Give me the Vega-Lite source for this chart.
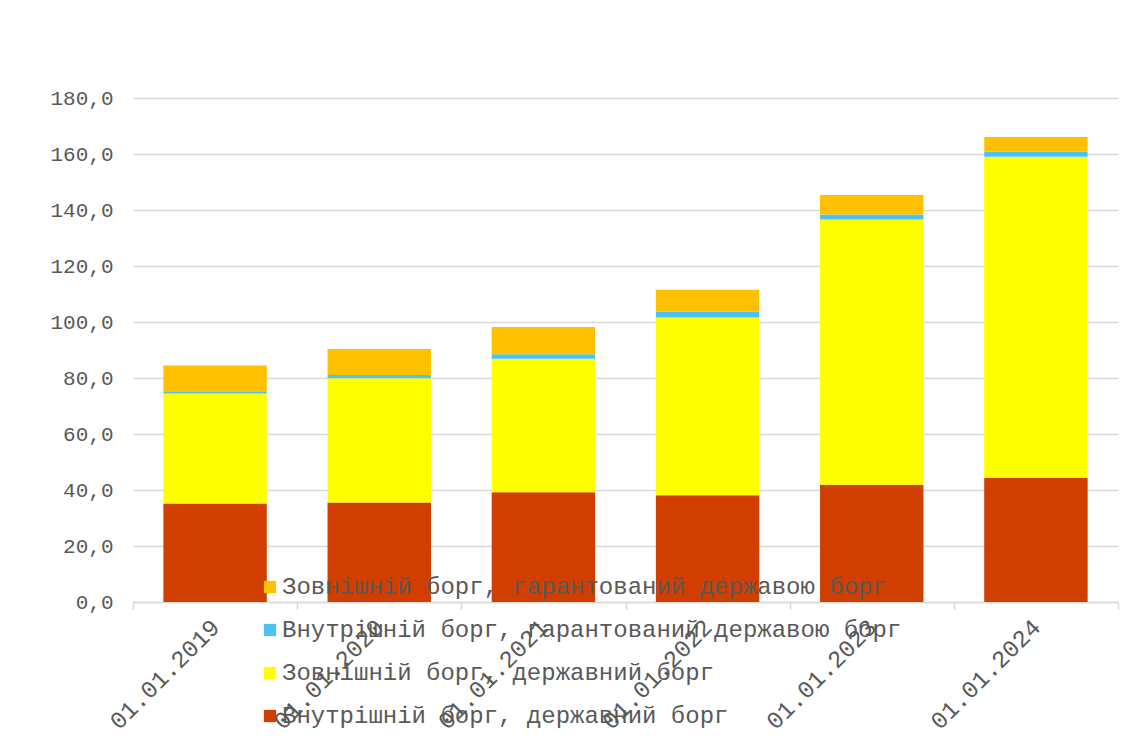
{
  "$schema": "https://vega.github.io/schema/vega-lite/v6.json",
  "width": 985,
  "height": 504,
  "autosize": {"type": "none"},
  "padding": {"left": 133, "top": 98, "right": 28, "bottom": 140},
  "background": "#ffffff",
  "data": {
    "values": [
      {"date": "01.01.2019", "series": "Внутрішній борг, державний борг", "ord": 1, "value": 35.2},
      {"date": "01.01.2019", "series": "Зовнішній борг, державний борг", "ord": 2, "value": 39.3},
      {"date": "01.01.2019", "series": "Внутрішній борг, гарантований державою борг", "ord": 3, "value": 0.5},
      {"date": "01.01.2019", "series": "Зовнішній борг, гарантований державою борг", "ord": 4, "value": 9.5},
      {"date": "01.01.2020", "series": "Внутрішній борг, державний борг", "ord": 1, "value": 35.5},
      {"date": "01.01.2020", "series": "Зовнішній борг, державний борг", "ord": 2, "value": 44.4},
      {"date": "01.01.2020", "series": "Внутрішній борг, гарантований державою борг", "ord": 3, "value": 1.2},
      {"date": "01.01.2020", "series": "Зовнішній борг, гарантований державою борг", "ord": 4, "value": 9.3},
      {"date": "01.01.2021", "series": "Внутрішній борг, державний борг", "ord": 1, "value": 39.2},
      {"date": "01.01.2021", "series": "Зовнішній борг, державний борг", "ord": 2, "value": 47.7},
      {"date": "01.01.2021", "series": "Внутрішній борг, гарантований державою борг", "ord": 3, "value": 1.6},
      {"date": "01.01.2021", "series": "Зовнішній борг, гарантований державою борг", "ord": 4, "value": 9.7},
      {"date": "01.01.2022", "series": "Внутрішній борг, державний борг", "ord": 1, "value": 38.1},
      {"date": "01.01.2022", "series": "Зовнішній борг, державний борг", "ord": 2, "value": 63.5},
      {"date": "01.01.2022", "series": "Внутрішній борг, гарантований державою борг", "ord": 3, "value": 2.1},
      {"date": "01.01.2022", "series": "Зовнішній борг, гарантований державою борг", "ord": 4, "value": 7.8},
      {"date": "01.01.2023", "series": "Внутрішній борг, державний борг", "ord": 1, "value": 41.9},
      {"date": "01.01.2023", "series": "Зовнішній борг, державний борг", "ord": 2, "value": 94.7},
      {"date": "01.01.2023", "series": "Внутрішній борг, гарантований державою борг", "ord": 3, "value": 1.8},
      {"date": "01.01.2023", "series": "Зовнішній борг, гарантований державою борг", "ord": 4, "value": 7.0},
      {"date": "01.01.2024", "series": "Внутрішній борг, державний борг", "ord": 1, "value": 44.4},
      {"date": "01.01.2024", "series": "Зовнішній борг, державний борг", "ord": 2, "value": 114.6},
      {"date": "01.01.2024", "series": "Внутрішній борг, гарантований державою борг", "ord": 3, "value": 1.8},
      {"date": "01.01.2024", "series": "Зовнішній борг, гарантований державою борг", "ord": 4, "value": 5.3}
    ]
  },
  "mark": {"type": "bar", "width": {"band": 0.63}},
  "encoding": {
    "x": {
      "field": "date",
      "type": "nominal",
      "sort": null,
      "title": null,
      "scale": {"paddingInner": 0, "paddingOuter": 0},
      "axis": {
        "labelAngle": -45,
        "labelFont": "Liberation Mono",
        "labelFontSize": 24,
        "labelColor": "#595959",
        "labelPadding": 6,
        "labelOffset": -8,
        "domainColor": "#d9d9d9",
        "domainWidth": 1.5,
        "tickColor": "#d9d9d9",
        "tickWidth": 1.5,
        "tickSize": 7,
        "tickBand": "extent",
        "grid": false
      }
    },
    "y": {
      "field": "value",
      "type": "quantitative",
      "stack": "zero",
      "title": null,
      "scale": {"domain": [0, 180], "nice": false},
      "axis": {
        "values": [0, 20, 40, 60, 80, 100, 120, 140, 160, 180],
        "format": ".1f",
        "labelExpr": "replace(datum.label, '.', ',')",
        "labelFont": "Liberation Mono",
        "labelFontSize": 21,
        "labelColor": "#595959",
        "labelPadding": 20,
        "domain": false,
        "ticks": false,
        "grid": true,
        "gridColor": "#d9d9d9",
        "gridWidth": 1.5
      }
    },
    "color": {
      "field": "series",
      "type": "nominal",
      "scale": {
        "domain": [
          "Зовнішній борг, гарантований державою борг",
          "Внутрішній борг, гарантований державою борг",
          "Зовнішній борг, державний борг",
          "Внутрішній борг, державний борг"
        ],
        "range": ["#FFC000", "#4BC3F2", "#FFFF00", "#D03E00"]
      },
      "legend": {
        "title": null,
        "orient": "none",
        "legendX": 125,
        "legendY": 477,
        "symbolType": "square",
        "symbolSize": 150,
        "symbolStrokeWidth": 0,
        "labelFont": "Liberation Mono",
        "labelFontSize": 24,
        "labelColor": "#595959",
        "labelOffset": 0,
        "labelLimit": 1000,
        "rowPadding": 19
      }
    },
    "order": {"field": "ord", "type": "quantitative", "sort": "ascending"}
  },
  "config": {
    "view": {"stroke": null},
    "axis": {"labelFont": "Liberation Mono"}
  }
}
